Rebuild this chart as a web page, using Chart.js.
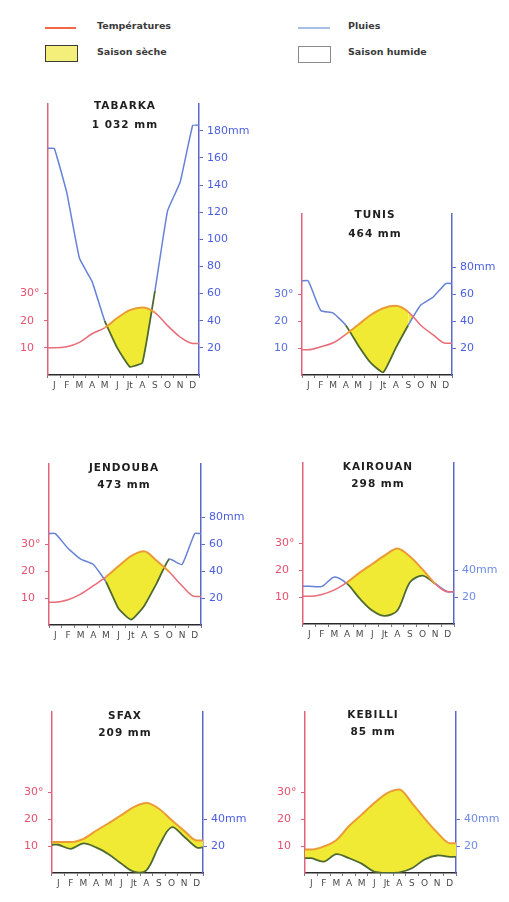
<!DOCTYPE html>
<html><head><meta charset="utf-8">
<script src="https://cdn.jsdelivr.net/npm/chart.js@4.4.1/dist/chart.umd.min.js"></script>
<style>
html,body{margin:0;padding:0;background:#fff;}
body{width:509px;height:902px;position:relative;overflow:hidden;font-family:'DejaVu Sans',sans-serif;}
.abs{position:absolute;}
canvas{position:absolute;}
.lg{position:absolute;font-weight:bold;font-size:9.5px;color:#3a3a3a;line-height:1;white-space:nowrap;}
.t{position:absolute;transform:translate(-50%,-50%);font-weight:bold;font-size:10.5px;letter-spacing:1px;color:#1e1e1e;white-space:nowrap;line-height:1;}
</style></head><body>
<div class="abs" style="left:45px;top:27px;width:31px;height:2px;background:#f06848"></div>
<div class="lg" style="left:97px;top:21px">Températures</div>
<div class="abs" style="left:45px;top:45px;width:31px;height:15px;background:#f3ef7a;border:1px solid #3a3a3a"></div>
<div class="lg" style="left:97px;top:47px">Saison sèche</div>
<div class="abs" style="left:298px;top:27px;width:32px;height:2px;background:#a9bfe3"></div>
<div class="lg" style="left:348px;top:21px">Pluies</div>
<div class="abs" style="left:298px;top:46px;width:31px;height:15px;background:#fff;border:1px solid #8a8a8a"></div>
<div class="lg" style="left:348px;top:47px">Saison humide</div>
<script>
// ---------------- DATA ----------------
const months = ['J','F','M','A','M','J','Jt','A','S','O','N','D'];
const stationNames = ['TABARKA','TUNIS','JENDOUBA','KAIROUAN','SFAX','KEBILLI'];
const stationTotals = ['1 032 mm','464 mm','473 mm','298 mm','209 mm','85 mm'];

// monthly mean temperature (°C)
const tabarkaTemp  = [10, 10.4, 12, 15.2, 17.4, 21, 23.9, 24.9, 23, 18.2, 14, 11.6];
const tunisTemp    = [9.4, 10.5, 12, 15.1, 18.7, 22.3, 24.8, 25.7, 23.5, 18.5, 14.9, 11.8];
const jendoubaTemp = [8.5, 9.4, 11.5, 14.6, 17.9, 21.9, 25.7, 27.4, 23.9, 19.7, 14.6, 10.6];
const kairouanTemp = [10.3, 11, 12.7, 15.5, 19.1, 22.3, 25.5, 28.1, 25.1, 20.3, 15, 12];
const sfaxTemp     = [11.5, 11.5, 12.7, 15.7, 18.5, 21.5, 24.5, 26, 23.9, 19.7, 15.7, 12.1];
const kebiliTemp   = [8.7, 9.9, 12.3, 17.5, 21.7, 26, 29.6, 31, 26, 20.3, 15.1, 11.1];

// monthly rainfall (mm)
const tabarkaRain  = [167, 134, 86, 69, 40, 20, 6, 9, 62, 121, 142, 184];
const tunisRain    = [70, 48, 46, 37, 22, 9, 2, 20, 37, 52, 58, 68];
const jendoubaRain = [68, 57, 49, 45, 32, 12, 4, 14, 31, 49, 45, 68];
const kairouanRain = [28, 28, 35, 30, 19, 10, 6, 10, 31, 36, 30, 24];
const sfaxRain     = [21, 18, 22, 19, 14, 7, 1, 2, 20, 34, 27, 19];
const kebiliRain   = [11, 8.5, 14, 11, 7, 1, 0, 0.5, 3.5, 10, 13, 12];

// axis tick labels
const tempTicks = [10, 20, 30];
const tabarkaRainTicks  = [20, 40, 60, 80, 100, 120, 140, 160, 180];
const tunisRainTicks    = [20, 40, 60, 80];
const jendoubaRainTicks = [20, 40, 60, 80];
const kairouanRainTicks = [20, 40];
const sfaxRainTicks     = [20, 40];
const kebiliRainTicks   = [20, 40];
const rainAxisMax = [200, 120, 120, 120, 120, 120];

const temps = [tabarkaTemp, tunisTemp, jendoubaTemp, kairouanTemp, sfaxTemp, kebiliTemp];
const rains = [tabarkaRain, tunisRain, jendoubaRain, kairouanRain, sfaxRain, kebiliRain];
const rainTicks = [tabarkaRainTicks, tunisRainTicks, jendoubaRainTicks, kairouanRainTicks, sfaxRainTicks, kebiliRainTicks];

// ---------------- LAYOUT / STYLE ----------------
const layout = [
  {L:48,  R:199, base:375, tx:125, t1:105, t2:124, leftLab:'#e8506e', rightLab:'#4a5ee0', rainT:0.1},
  {L:302, R:452, base:375, tx:375, t1:214, t2:233, leftLab:'#5a6ee0', rightLab:'#4a5ee0', rainT:0.15},
  {L:49,  R:201, base:625, tx:124, t1:467, t2:484, leftLab:'#e8506e', rightLab:'#4a5ee0', rainT:0.15},
  {L:303, R:454, base:624, tx:378, t1:466, t2:483, leftLab:'#e8506e', rightLab:'#6f8ae6', rainT:0.3},
  {L:52,  R:203, base:873, tx:125, t1:715, t2:732, leftLab:'#e8506e', rightLab:'#4a5ee0', rainT:0.35},
  {L:305, R:456, base:873, tx:373, t1:714, t2:731, leftLab:'#e8506e', rightLab:'#6f8ae6', rainT:0.35}
];
const C = {
  tempWet:'#e86c7a', tempDry:'#eb9a35', rainWet:'#6682d8', rainDry:'#4e6a30',
  yellow:'#f1ea34', leftAxis:'#e2627a', rightAxis:'#5c68c8', base:'#2a2a2a'
};
const PX20 = 27.4, LW = 28, RW = 60, TOP = 8, BOT = 20;

function ext(arr){ // hold first/last monthly values out to the axes
  return [{x:-0.5, y:arr[0]}].concat(arr.map((v,k)=>({x:k, y:v})), [{x:11.5, y:arr[arr.length-1]}]);
}

function makeChart(i){
  const lay = layout[i], temp = temps[i], rain = rains[i], rMax = rainAxisMax[i];
  const areaH = Math.round(rMax / 20 * PX20);
  const areaW = lay.R - lay.L;
  const cv = document.createElement('canvas');
  cv.width = areaW + LW + RW; cv.height = areaH + TOP + BOT;
  cv.style.left = (lay.L - LW) + 'px';
  cv.style.top = (lay.base - areaH - TOP) + 'px';
  document.body.appendChild(cv);

  const tData = ext(temp), rData = ext(rain);
  const dry = c => {
    const a = c.p0DataIndex, b = c.p1DataIndex;
    return (rData[a].y + rData[b].y) < 2 * (tData[a].y + tData[b].y);
  };
  const lastTick = rainTicks[i][rainTicks[i].length - 1];

  new Chart(cv, {
    type: 'line',
    data: {
      datasets: [
        {label:'Températures', data:tData, xAxisID:'x', yAxisID:'yT',
         borderColor:C.tempWet, borderWidth:1.6, pointRadius:0, cubicInterpolationMode:'monotone', fill:false,
         segment:{borderColor:c => dry(c) ? C.tempDry : C.tempWet, borderWidth:c => dry(c) ? 2 : 1.5}},
        {label:'Pluies', data:rData, xAxisID:'x', yAxisID:'yR',
         borderColor:C.rainWet, borderWidth:1.5, pointRadius:0, tension:lay.rainT,
         fill:{target:0, above:'rgba(0,0,0,0)', below:C.yellow},
         segment:{borderColor:c => dry(c) ? C.rainDry : C.rainWet, borderWidth:c => dry(c) ? 1.8 : 1.5}}
      ]
    },
    options: {
      responsive:false, animation:false,
      layout:{padding:{top:TOP, left:0, right:0, bottom:0}},
      plugins:{legend:{display:false}, tooltip:{enabled:false}, title:{display:false}},
      scales: {
        x: {type:'linear', display:false, min:-0.5, max:11.5},
        xm: {type:'category', labels:months, position:'bottom', offset:true,
             grid:{offset:true, drawOnChartArea:false, drawTicks:true, tickLength:3, color:'#777', lineWidth:1},
             border:{display:true, color:C.base, width:1.5},
             ticks:{color:'#4a4a4a', font:{family:'DejaVu Sans', size:9}, padding:2, maxRotation:0, autoSkip:false},
             afterFit: s => { s.height = BOT; }},
        yT: {type:'linear', position:'left', min:0, max:rMax / 2,
             afterBuildTicks: s => { s.ticks = tempTicks.map(v => ({value:v})); },
             grid:{drawOnChartArea:false, drawTicks:true, tickLength:4, color:C.leftAxis},
             border:{display:true, color:C.leftAxis, width:1.5},
             ticks:{crossAlign:'far', color:lay.leftLab, font:{family:'DejaVu Sans', size:11}, padding:3,
                    callback: v => v === 30 ? '30°' : String(v)},
             afterFit: s => { s.width = LW; }},
        yR: {type:'linear', position:'right', min:0, max:rMax,
             afterBuildTicks: s => { s.ticks = rainTicks[i].map(v => ({value:v})); },
             grid:{drawOnChartArea:false, drawTicks:true, tickLength:4, color:C.rightAxis},
             border:{display:true, color:C.rightAxis, width:1.5},
             ticks:{color:lay.rightLab, font:{family:'DejaVu Sans', size:11}, padding:4,
                    callback: v => v === lastTick ? v + 'mm' : String(v)},
             afterFit: s => { s.width = RW; }}
      }
    }
  });

  const d1 = document.createElement('div'); d1.className = 't';
  d1.style.left = lay.tx + 'px'; d1.style.top = lay.t1 + 'px'; d1.textContent = stationNames[i];
  const d2 = document.createElement('div'); d2.className = 't';
  d2.style.left = lay.tx + 'px'; d2.style.top = lay.t2 + 'px'; d2.textContent = stationTotals[i];
  document.body.appendChild(d1); document.body.appendChild(d2);
}
for (let i = 0; i < 6; i++) makeChart(i);
</script>
</body></html>
